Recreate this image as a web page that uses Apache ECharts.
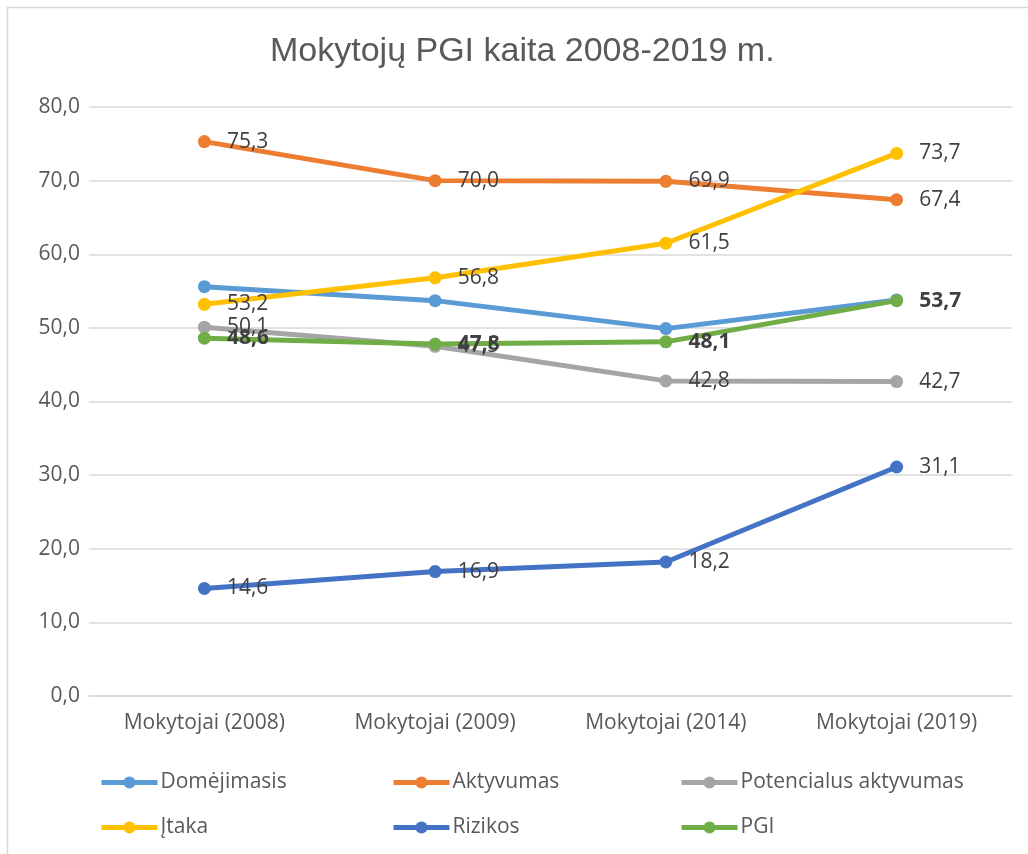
<!DOCTYPE html>
<html>
<head>
<meta charset="utf-8">
<script src="https://cdn.jsdelivr.net/npm/echarts@6/dist/echarts.min.js"></script>
<style>
  html, body { margin: 0; padding: 0; background: #fff; }
  #chart { width: 1028px; height: 854px; }
</style>
</head>
<body>
<div id="chart"></div>
<script>
// duomenys
const categories = ['Mokytojai (2008)', 'Mokytojai (2009)', 'Mokytojai (2014)', 'Mokytojai (2019)'];
const domejimasis = [55.6, 53.7, 49.9, 53.8];
const aktyvumas = [75.3, 70.0, 69.9, 67.4];
const potencialus = [50.1, 47.5, 42.8, 42.7];
const itaka = [53.2, 56.8, 61.5, 73.7];
const rizikos = [14.6, 16.9, 18.2, 31.1];
const pgi = [48.6, 47.8, 48.1, 53.7];

const fmt = v => v.toFixed(1).replace('.', ',');
const FONT = 'Open Sans';

function line(name, data, color, showLabel, bold) {
  return {
    name: name,
    type: 'line',
    data: data,
    symbol: 'circle',
    symbolSize: 13,
    lineStyle: { width: 5, color: color },
    itemStyle: { color: color },
    label: {
      show: showLabel,
      position: 'right',
      distance: 16,
      fontSize: 21,
      fontFamily: FONT,
      fontWeight: bold ? 'bold' : 'normal',
      color: '#404040',
      formatter: p => fmt(p.value)
    }
  };
}

// legendos vietos (eilutė, stulpelis)
const legendNames = ['Domėjimasis', 'Aktyvumas', 'Potencialus aktyvumas', 'Įtaka', 'Rizikos', 'PGI'];
const legendLeft = [94, 386, 674];
const legendTop = [767, 812];
const legends = legendNames.map((n, i) => ({
  data: [n],
  left: legendLeft[i % 3],
  top: legendTop[Math.floor(i / 3)],
  itemWidth: 56, itemHeight: 15,
  lineStyle: { width: 5 },
  textStyle: { fontSize: 21, color: '#595959', fontFamily: FONT, padding: [0, 0, 0, -2] }
}));

let myChart = echarts.init(document.getElementById('chart'));
myChart.setOption({
  animation: false,
  backgroundColor: '#fff',
  title: {
    text: 'Mokytojų PGI kaita 2008-2019 m.',
    left: 265,
    top: 30,
    textStyle: { fontSize: 34, fontWeight: 'normal', color: '#595959', fontFamily: 'Liberation Sans' }
  },
  legend: legends,
  grid: { left: 89, right: 16, top: 107, bottom: 158 },
  xAxis: {
    type: 'category',
    data: categories,
    axisLine: { lineStyle: { color: '#d9d9d9', width: 1.5 } },
    axisTick: { show: false },
    axisLabel: { fontSize: 21, color: '#595959', fontFamily: FONT, margin: 17 }
  },
  yAxis: {
    type: 'value',
    min: 0, max: 80, interval: 10,
    axisLine: { show: false },
    axisTick: { show: false },
    splitLine: { lineStyle: { color: '#d9d9d9', width: 1.5 } },
    axisLabel: { fontSize: 21, color: '#595959', fontFamily: FONT, margin: 9, formatter: v => fmt(v) }
  },
  graphic: [{
    type: 'rect',
    shape: { x: 7.5, y: 7.5, width: 1040, height: 870 },
    style: { fill: null, stroke: '#d9d9d9', lineWidth: 1.5 },
    silent: true
  }],
  series: [
    line('Domėjimasis', domejimasis, '#5B9BD5', false, false),
    line('Aktyvumas', aktyvumas, '#ED7D31', true, false),
    line('Potencialus aktyvumas', potencialus, '#A5A5A5', true, false),
    line('Įtaka', itaka, '#FFC000', true, false),
    line('Rizikos', rizikos, '#4472C4', true, false),
    line('PGI', pgi, '#70AD47', true, true)
  ]
});
</script>
</body>
</html>
